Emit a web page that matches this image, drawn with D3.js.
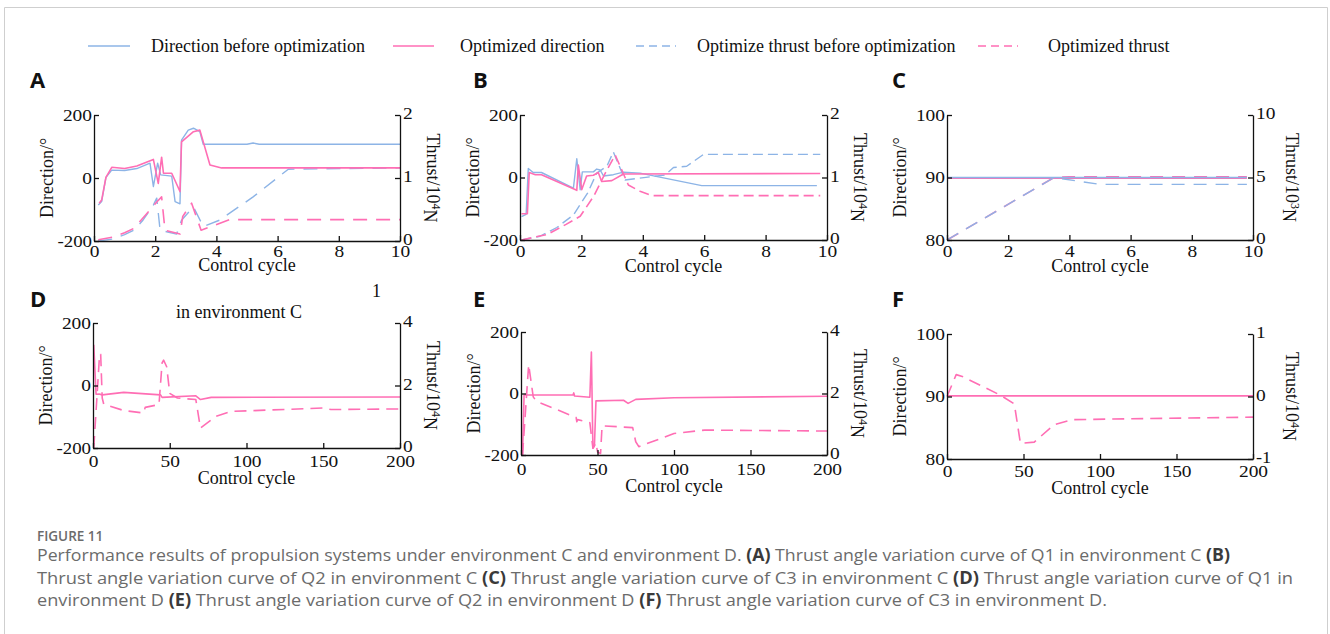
<!DOCTYPE html>
<html>
<head>
<meta charset="utf-8">
<script src="https://cdn.jsdelivr.net/npm/d3@7/dist/d3.min.js"></script>
<style>
    body { margin: 0; background: #fff; }
    svg text { font-family: "Liberation Serif", "Times New Roman", serif; fill: #111; }
</style>
</head>
<body>
<svg id="fig" width="1330" height="634"></svg>
<script>
// ---------- data ----------
var legendLabels = ['Direction before optimization', 'Optimized direction',
                    'Optimize thrust before optimization', 'Optimized thrust'];

var cycleTicksShort = [0, 2, 4, 6, 8, 10];
var cycleTicksLong = [0, 50, 100, 150, 200];
var dirTicksWide = [-200, 0, 200];
var dirTicksNarrow = [80, 90, 100];
var thrustTicksA = [0, 1, 2];
var thrustTicksC = [0, 5, 10];
var thrustTicksD = [0, 2, 4];
var thrustTicksF = [-1, 0, 1];

// panel A  (control cycle, direction deg / thrust 10^4 N)
var A_dirBefore = [[0.14,-86],[0.25,-75],[0.39,2],[0.58,25],[1.0,24],[1.4,30],[1.83,47],[1.94,-27],[2.08,47],
                   [2.18,10],[2.54,6],[2.65,-75],[2.81,-82],[2.86,120],[3.08,152],[3.25,158],[3.46,147],
                   [3.57,107],[5.0,107],[5.2,111],[5.4,107],[10,107]];
var A_dirOpt = [[0.17,-80],[0.25,-70],[0.39,2],[0.58,34],[1.0,30],[1.4,38],[1.94,59],[2.1,-17],[2.21,66],
                [2.27,15],[2.54,15],[2.81,-43],[2.86,115],[3.25,147],[3.46,152],[3.79,41],[4.17,32],[10,32]];
var A_thrustBefore = [[0.14,0],[0.6,0.03],[1.0,0.1],[1.3,0.17],[1.6,0.33],[1.94,0.57],[2.05,0.68],[2.16,0.17],
                      [2.7,0.11],[2.86,0.33],[3.25,0.54],[3.57,0.23],[4.1,0.33],[5.2,0.70],[6.35,1.14],[10,1.16]];
var A_thrustOpt = [[0.14,0.02],[0.6,0.06],[1.0,0.13],[1.3,0.2],[1.7,0.42],[2.05,0.62],[2.21,0.70],[2.32,0.17],
                   [2.81,0.11],[2.9,0.39],[3.19,0.6],[3.5,0.17],[4.44,0.34],[10,0.34]];

// panel B
var B_dirBefore = [[0.05,-125],[0.2,-118],[0.27,29],[0.43,16],[0.7,16],[1.74,-34],[1.85,60],[1.96,-39],[2.03,18],
                   [2.39,18],[2.5,27],[2.61,24],[2.72,5],[3.04,9],[3.37,17],[3.91,14],[5.92,-26],[9.67,-26]];
var B_dirOpt = [[0.05,-116],[0.24,-116],[0.3,16],[0.5,9],[0.7,9],[1.85,-41],[1.9,40],[2.01,-39],[2.17,5],
                [2.39,7],[2.55,16],[2.66,-13],[2.99,-10],[3.37,11],[9.78,13]];
var B_thrustBefore = [[0.05,0],[0.65,0.06],[1.2,0.2],[1.74,0.40],[2.2,0.75],[2.5,1.07],[2.83,1.18],[3.04,1.41],
                      [3.42,0.96],[4.73,1.04],[5.0,1.16],[5.43,1.18],[5.98,1.37],[9.78,1.37]];
var B_thrustOpt = [[0.05,0],[0.9,0.09],[1.5,0.25],[1.96,0.38],[2.4,0.7],[2.83,1.12],[3.1,1.36],[3.53,0.88],
                   [3.91,0.78],[4.29,0.71],[9.78,0.71]];

// panel C  (thrust 10^3 N)
var C_dirBefore = [[0,90],[9.8,90]];
var C_dirOpt = [[0,89.9],[9.8,89.9]];
var C_thrustBefore = [[0,0],[3.5,5.0],[5.0,4.45],[9.8,4.45]];
var C_thrustOpt = [[0,0],[3.5,5.0],[4.0,5.05],[9.8,5.05]];

// panel D
var D_dirOpt = [[0.5,130],[2,-28],[4,-27],[6,-30],[20,-22],[44,-30],[45,-38],[67,-33],[70,-45],[77,-38],[200,-37]];
var D_thrustOpt = [[0.5,0],[4.3,3.0],[5,3.0],[6,1.6],[7,1.4],[20,1.2],[33,1.12],[34,1.3],[43,1.39],[45,2.72],
                   [46,2.81],[48,2.6],[50,1.75],[55,1.6],[67,1.55],[70,0.64],[80,1.01],[90,1.17],[150,1.28],
                   [155,1.23],[200,1.25]];

// panel E
var E_dirOpt = [[1,-200],[2,-5],[34,-5],[34.5,2],[35,-8],[45,-12],[46,135],[47,-178],[48,-170],[49,-24],
                [67,-22],[70,-32],[75,-19],[100,-14],[200,-9]];
var E_thrustOpt = [[1,0],[5,2.94],[8,1.89],[10,1.75],[36,1.22],[36.5,1.08],[37,1.15],[45,1.05],[47,0.22],
                   [49,0.4],[50,0.1],[52,0.05],[53,0.95],[73,0.89],[75,0.43],[77,0.27],[100,0.70],[120,0.81],
                   [200,0.78]];

// panel F
var F_dirOpt = [[0,90.1],[200,90.1]];
var F_thrustOpt = [[0,0],[6,0.35],[10,0.32],[35,0.02],[44,-0.12],[48,-0.75],[57,-0.73],[70,-0.45],[82,-0.37],
                   [200,-0.33]];

var captionLines = [
    'Performance results of propulsion systems under environment C and environment D. (A) Thrust angle variation curve of Q1 in environment C (B)',
    'Thrust angle variation curve of Q2 in environment C (C) Thrust angle variation curve of C3 in environment C (D) Thrust angle variation curve of Q1 in',
    'environment D (E) Thrust angle variation curve of Q2 in environment D (F) Thrust angle variation curve of C3 in environment D.'
];
var captionWidths = [1193, 1256, 1070];   // measured line lengths in the figure

// ---------- styles ----------
var blue = '#8db4e6';
var pink = '#ff6eb4';
var styles = {
    dirBefore:    { color: blue, dash: null, width: 1.4 },
    dirOpt:       { color: pink, dash: null, width: 1.6 },
    thrustBefore: { color: blue, dash: 'dash', width: 1.4 },
    thrustOpt:    { color: pink, dash: 'dash', width: 1.6 }
};

// ---------- panels (layout + which data) ----------
var panels = [
    { id: 'A', box: [94, 400, 115, 241], letter: [30, 88], xDom: [0, 10], xTicks: cycleTicksShort,
      yDom: [-200, 200], yTicks: dirTicksWide, y2Dom: [0, 2], y2Ticks: thrustTicksA, exp: '4',
      tickOff: 16, xLab: 271, y2Off: 33, dash: '14,9',
      series: [['thrustBefore', A_thrustBefore], ['dirBefore', A_dirBefore], ['thrustOpt', A_thrustOpt], ['dirOpt', A_dirOpt]] },
    { id: 'B', box: [520, 827, 115, 240], letter: [473, 88], xDom: [0, 10], xTicks: cycleTicksShort,
      yDom: [-200, 200], yTicks: dirTicksWide, y2Dom: [0, 2], y2Ticks: thrustTicksA, exp: '4',
      tickOff: 17, xLab: 272, y2Off: 33, dash: '10,5',
      series: [['thrustBefore', B_thrustBefore], ['dirBefore', B_dirBefore], ['thrustOpt', B_thrustOpt], ['dirOpt', B_dirOpt]] },
    { id: 'C', box: [947, 1253, 115, 240], letter: [892, 88], xDom: [0, 10], xTicks: cycleTicksShort,
      yDom: [80, 100], yTicks: dirTicksNarrow, y2Dom: [0, 10], y2Ticks: thrustTicksC, exp: '3',
      tickOff: 17, xLab: 272, y2Off: 39, dash: '13,9',
      series: [['dirOpt', C_dirOpt], ['thrustOpt', C_thrustOpt], ['thrustBefore', C_thrustBefore], ['dirBefore', C_dirBefore]] },
    { id: 'D', box: [93, 400, 323, 448], letter: [30, 307], xDom: [0, 200], xTicks: cycleTicksLong,
      yDom: [-200, 200], yTicks: dirTicksWide, y2Dom: [0, 4], y2Ticks: thrustTicksD, exp: '4',
      tickOff: 19, xLab: 484, y2Off: 33, dash: '12,7',
      series: [['thrustOpt', D_thrustOpt], ['dirOpt', D_dirOpt]] },
    { id: 'E', box: [521, 827, 332, 455], letter: [473, 307], xDom: [0, 200], xTicks: cycleTicksLong,
      yDom: [-200, 200], yTicks: dirTicksWide, y2Dom: [0, 4], y2Ticks: thrustTicksD, exp: '4',
      tickOff: 20, xLab: 492, y2Off: 33, dash: '12,7',
      series: [['thrustOpt', E_thrustOpt], ['dirOpt', E_dirOpt]] },
    { id: 'F', box: [947, 1253, 334, 459], letter: [892, 307], xDom: [0, 200], xTicks: cycleTicksLong,
      yDom: [80, 100], yTicks: dirTicksNarrow, y2Dom: [-1, 1], y2Ticks: thrustTicksF, exp: '4',
      tickOff: 18, xLab: 494, y2Off: 39, dash: '12,7',
      series: [['thrustOpt', F_thrustOpt], ['dirOpt', F_dirOpt]] }
];

var svg = d3.select('#fig');

// light frame around the figure
svg.append('path')
    .attr('d', 'M4.5,634V7.5H1327.5V634')
    .attr('fill', 'none')
    .attr('stroke', '#cfcfcf');

// ---------- legend ----------
var legendPos = [
    { x1: 88, x2: 130, tx: 151 },
    { x1: 393, x2: 434, tx: 460 },
    { x1: 636, x2: 676, tx: 697 },
    { x1: 978, x2: 1018, tx: 1048 }
];
var legendKeys = ['dirBefore', 'dirOpt', 'thrustBefore', 'thrustOpt'];
legendKeys.forEach(function (k, i) {
    var st = styles[k], pos = legendPos[i];
    svg.append('line')
        .attr('x1', pos.x1).attr('x2', pos.x2).attr('y1', 46).attr('y2', 46)
        .attr('stroke', st.color).attr('stroke-width', st.width)
        .attr('stroke-dasharray', st.dash ? '8,5' : null);
    svg.append('text')
        .attr('x', pos.tx).attr('y', 52)
        .attr('font-size', 18)
        .text(legendLabels[i]);
});

// tick digits in the figure are a little wider than plain Times
var stretchTicks = function (sel) {
    sel.selectAll('.tick text')
        .attr('textLength', function (d) {
            var s = String(d);
            return s.replace('-', '').length * 9.7 + (s.charAt(0) === '-' ? 5.5 : 0);
        })
        .attr('lengthAdjust', 'spacingAndGlyphs');
};

// ---------- one panel ----------
var drawPanel = function (p) {
    var left = p.box[0], right = p.box[1], top = p.box[2], bottom = p.box[3];
    var x = d3.scaleLinear().domain(p.xDom).range([left, right]);
    var y = d3.scaleLinear().domain(p.yDom).range([bottom, top]);
    var y2 = d3.scaleLinear().domain(p.y2Dom).range([bottom, top]);
    var g = svg.append('g').attr('class', 'panel-' + p.id);

    // series
    p.series.forEach(function (s) {
        var st = styles[s[0]];
        var yy = s[0].indexOf('thrust') === 0 ? y2 : y;                 // thrust goes on the right axis
        var line = d3.line().x(function (d) { return x(d[0]); }).y(function (d) { return yy(d[1]); });
        g.append('path')
            .datum(s[1])
            .attr('d', line)
            .attr('fill', 'none')
            .attr('stroke', st.color)
            .attr('stroke-width', st.width)
            .attr('stroke-linejoin', 'round')
            .attr('stroke-dasharray', st.dash ? p.dash : null);
    });

    // axes, ticks pointing inward
    var fmt = function (d) { return String(d); };
    var styleAxis = function (sel) {
        sel.attr('font-family', '"Liberation Serif", "Times New Roman", serif').attr('font-size', 17);
        sel.select('.domain').attr('stroke', '#111').attr('stroke-width', 1.3);
        sel.selectAll('.tick line').attr('stroke', '#111').attr('stroke-width', 1.3);
        stretchTicks(sel);
    };
    var gx = g.append('g').attr('transform', 'translate(0,' + bottom + ')')
        .call(d3.axisBottom(x).tickValues(p.xTicks).tickSizeInner(-5).tickSizeOuter(0).tickFormat(fmt));
    styleAxis(gx);
    gx.selectAll('.tick text').attr('y', p.tickOff).attr('dy', null);

    var gy = g.append('g').attr('transform', 'translate(' + left + ',0)')
        .call(d3.axisLeft(y).tickValues(p.yTicks).tickSizeInner(-5).tickSizeOuter(0).tickPadding(2).tickFormat(fmt));
    styleAxis(gy);

    var gy2 = g.append('g').attr('transform', 'translate(' + right + ',0)')
        .call(d3.axisRight(y2).tickValues(p.y2Ticks).tickSizeInner(-5).tickSizeOuter(0).tickPadding(3).tickFormat(fmt));
    styleAxis(gy2);
    gy2.selectAll('.tick text').attr('dy', '0.22em');

    // titles
    var cy = (top + bottom) / 2;
    g.append('text')
        .attr('x', (left + right) / 2).attr('y', p.xLab)
        .attr('text-anchor', 'middle').attr('font-size', 18)
        .text('Control cycle');
    g.append('text')
        .attr('transform', 'translate(' + (left - 41) + ',' + cy + ') rotate(-90)')
        .attr('text-anchor', 'middle').attr('font-size', 18)
        .text('Direction/\u00b0');
    var t2 = g.append('text')
        .attr('transform', 'translate(' + (right + p.y2Off - 6) + ',' + cy + ') rotate(90)')
        .attr('text-anchor', 'middle').attr('font-size', 18);
    t2.append('tspan').text('Thrust/10');
    t2.append('tspan').attr('dy', '-0.45em').attr('font-size', 12).text(p.exp);
    t2.append('tspan').attr('dy', '0.45em').text('N');

    // panel letter
    svg.append('text')
        .attr('x', p.letter[0]).attr('y', p.letter[1])
        .style('font-family', '"Open Sans", "Noto Sans", sans-serif')
        .attr('font-weight', 'bold').attr('font-size', 22)
        .text(p.id);
};

panels.forEach(drawPanel);

// stray text left over in panel D
svg.append('text').attr('x', 176).attr('y', 318).attr('font-size', 18).text('in environment C');
svg.append('text').attr('x', 372).attr('y', 297).attr('font-size', 18).text('1');

// ---------- caption ----------
svg.append('text')
    .attr('x', 37).attr('y', 541)
    .style('font-family', '"Open Sans", "Noto Sans", sans-serif')
    .style('fill', '#6b6b6b')
    .attr('font-size', 13.5).attr('font-weight', 600)
    .text('FIGURE 11');

captionLines.forEach(function (line, i) {
    var t = svg.append('text')
        .attr('x', 37).attr('y', 561 + i * 22.5)
        .attr('textLength', captionWidths[i])
        .attr('lengthAdjust', 'spacingAndGlyphs')
        .style('font-family', '"Open Sans", "Noto Sans", sans-serif')
        .style('fill', '#6b6b6b')
        .attr('font-size', 17);
    line.split(/(\([A-F]\))/).forEach(function (part) {
        if (!part) return;
        var isRef = /^\([A-F]\)$/.test(part);
        t.append('tspan')
            .style('fill', isRef ? '#3a3a3a' : '#6b6b6b')
            .attr('font-weight', isRef ? 'bold' : null)
            .text(part);
    });
});
</script>
</body>
</html>
